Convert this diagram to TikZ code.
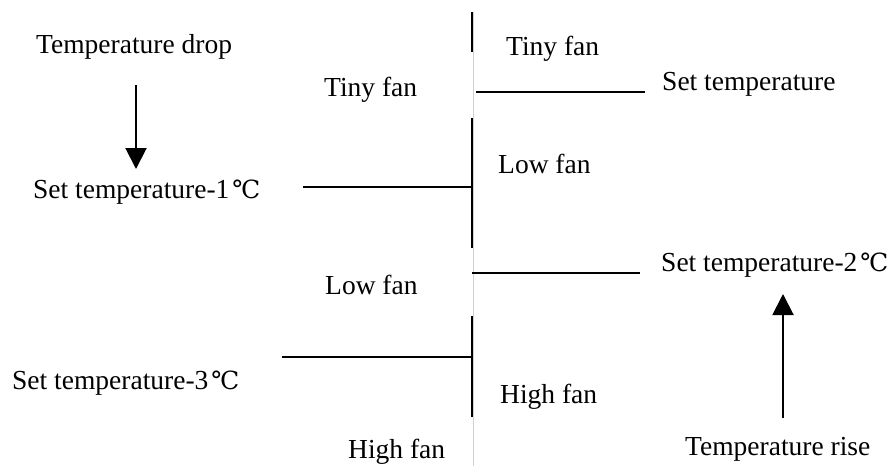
\documentclass[tikz,border=0pt]{standalone}
\usepackage{fontspec}
\setmainfont{Liberation Serif}
\newfontfamily\degfont{DejaVu Serif}
\newcommand{\degC}{\hspace{3pt}{\degfont\fontsize{25}{30}\selectfont ℃}}
\usetikzlibrary{arrows.meta}
\begin{document}
\begin{tikzpicture}[x=1pt,y=-1pt,
  lbl/.style={anchor=base west,inner sep=0pt,font=\fontsize{27.5}{30}\selectfont},
  bar/.style={line width=2pt,black},
  guide/.style={line width=1pt,black!18},
  arr/.style={line width=2pt,-{Triangle[width=21pt,length=21pt]}}]
\useasboundingbox (0,0) rectangle (888,466);
% texts
\node[lbl] (tdrop) at (36,53) {Temperature drop};
\node[lbl] (tinyL) at (324,96) {Tiny fan};
\node[lbl] (tinyR) at (506,55) {Tiny fan};
\node[lbl] (setT) at (662,90) {Set temperature};
\node[lbl] (set1) at (33,198) {Set temperature-1\degC};
\node[lbl] (lowR) at (498,173) {Low fan};
\node[lbl] (set2) at (661,271) {Set temperature-2\degC};
\node[lbl] (lowL) at (325,294) {Low fan};
\node[lbl] (set3) at (12,389) {Set temperature-3\degC};
\node[lbl] (highR) at (500,403) {High fan};
\node[lbl] (highL) at (348,458) {High fan};
\node[lbl] (trise) at (685,455) {Temperature rise};
% guide line
\draw[guide] (473.5,12) -- (473.5,466);
% vertical bars
\draw[bar] (472,12) -- (472,52);
\draw[bar] (472,118) -- (472,248);
\draw[bar] (472,316) -- (472,417);
% horizontal bars
\draw[bar] (476,92) -- (645,92);
\draw[bar] (303,187) -- (472,187);
\draw[bar] (472,273) -- (640,273);
\draw[bar] (282,357) -- (472,357);
% arrows
\coordinate (a1s) at (136,85);
\coordinate (a1e) at (136,169);
\coordinate (a2s) at (783,418);
\coordinate (a2e) at (783,294);
\draw[arr] (a1s) -- (a1e);
\draw[arr] (a2s) -- (a2e);
\end{tikzpicture}
\end{document}
